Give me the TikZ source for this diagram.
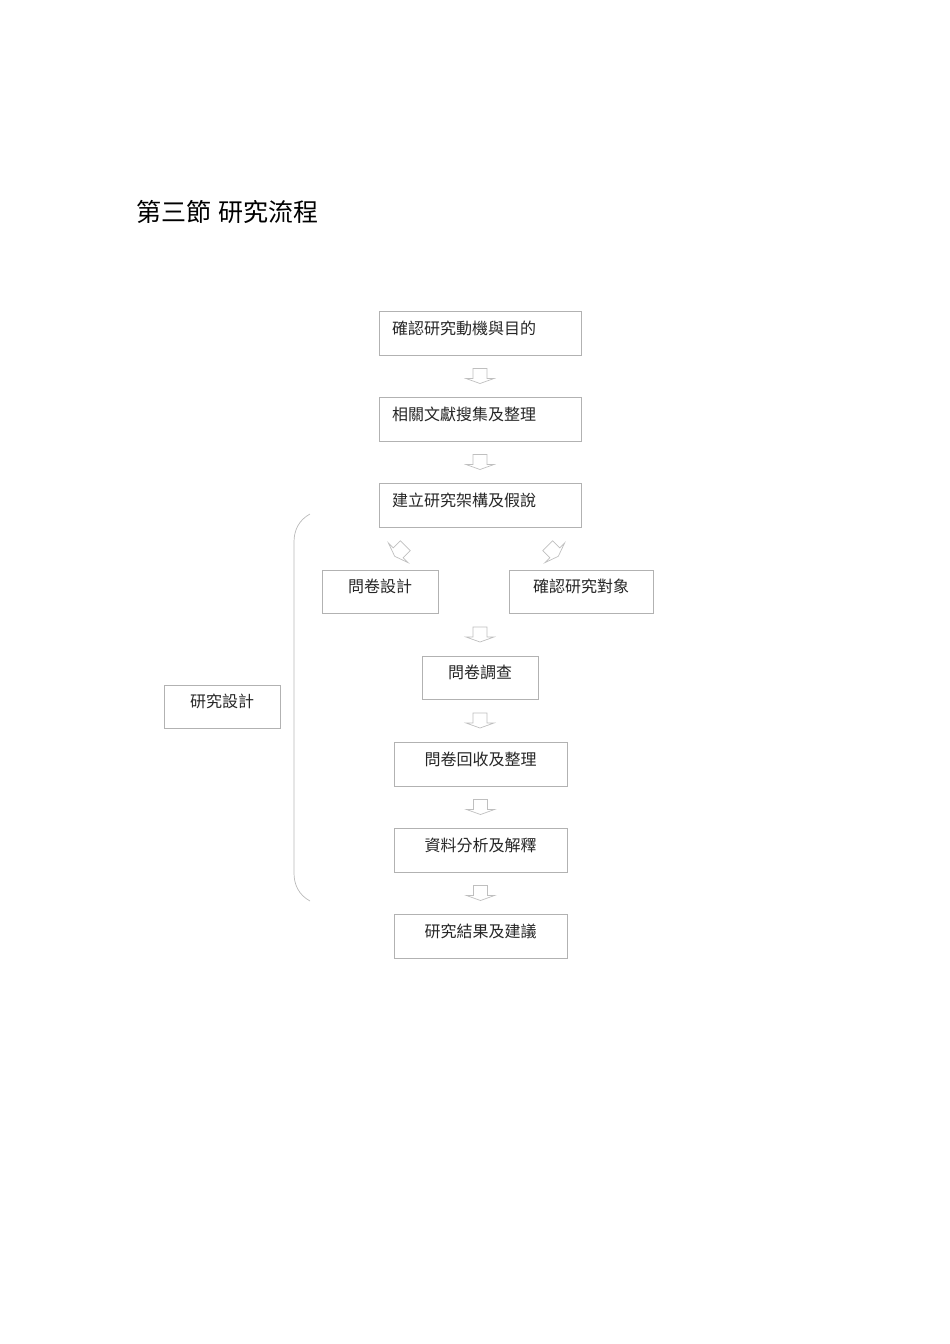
\documentclass[tikz,border=0pt]{standalone}
\usepackage{fontspec}
\setmainfont{Noto Sans CJK TC}
\usepackage{tikz}
\usetikzlibrary{calc}

\tikzset{
	flowbox/.style={draw=gray!60, line width=0.8pt, inner sep=0pt, minimum height=44pt,
		text height=12pt, text depth=10pt, font=\fontsize{16}{18}\selectfont, text=black!85},
	leftbox/.style={flowbox, text width=176pt, align=left, inner xsep=13pt},
	downarrow/.pic={
		\draw[draw=gray!50, line width=0.7pt] (-7,7.5) -- (-7,-2.5) -- (-14,-2.5) -- (0,-7.5)
			-- (14,-2.5) -- (7,-2.5) -- (7,7.5) -- cycle;
	}
}

\begin{document}
\begin{tikzpicture}[x=1pt, y=1pt]
		\useasboundingbox (0,0) rectangle (950,-1344);
		
		\node[anchor=west, inner sep=0pt, font=\fontsize{25}{28}\selectfont] (title) at (136,-212) {第三節\hspace{7pt}研究流程};
		
		\node[leftbox] (b1) at (480,-333) {確認研究動機與目的};
		\node[leftbox] (b2) at (480,-419) {相關文獻搜集及整理};
		\node[leftbox] (b3) at (480,-505) {建立研究架構及假說};
		
		\node[flowbox, minimum width=116pt, minimum height=43pt] (b4) at (380,-591.5) {問卷設計};
		\node[flowbox, minimum width=144pt, minimum height=43pt] (b5) at (581,-591.5) {確認研究對象};
		\node[flowbox, minimum width=116pt, minimum height=43pt] (b6) at (480,-677.5) {問卷調查};
		\node[flowbox, minimum width=116pt, minimum height=43pt] (design) at (222,-706.5) {研究設計};
		\node[flowbox, minimum width=173pt] (b7) at (480.5,-764) {問卷回收及整理};
		\node[flowbox, minimum width=173pt] (b8) at (480.5,-850) {資料分析及解釋};
		\node[flowbox, minimum width=173pt] (b9) at (480.5,-936) {研究結果及建議};
		
		% block arrows
		\pic at ($(b1.south)!0.5!(b2.north)$) {downarrow};
		\pic at ($(b2.south)!0.5!(b3.north)$) {downarrow};
		\pic[rotate=-45] at (400,-551) {downarrow};
		\pic[rotate=45] at (553,-551) {downarrow};
		\pic at ($(b6.north)!0.5!(b6.north|-b4.south)$) {downarrow};
		\pic at ($(b6.south)!0.5!(b6.south|-b7.north)$) {downarrow};
		\pic at ($(b7.south)!0.5!(b8.north)$) {downarrow};
		\pic at ($(b8.south)!0.5!(b9.north)$) {downarrow};
		
		% bracket
		\draw[gray!55, line width=0.7pt] (310,-514) .. controls (299,-520) and (294,-530) .. (294,-542)
			-- (294,-873) .. controls (294,-885) and (299,-895) .. (310,-901);
	\end{tikzpicture}
\end{document}
